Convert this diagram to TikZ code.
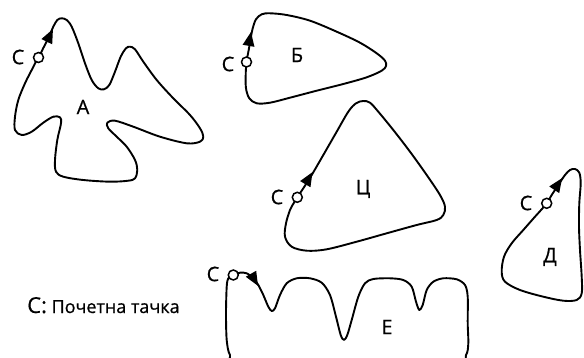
\documentclass[tikz,border=0pt]{standalone}
\usepackage{fontspec}
\setmainfont{Open Sans}[FakeBold=0.6]
\begin{document}
\begin{tikzpicture}[x=1pt,y=-1pt,
  outline/.style={line width=1.9pt, line join=round, line cap=round},
  startpt/.style={circle, draw, fill=white, line width=1.5pt, minimum size=10pt, inner sep=0pt},
  lbl/.style={font=\fontsize{20}{20}\selectfont, inner sep=0pt},
  fwdtip/.pic={\fill (1,0) -- (-13,6) -- (-13,-6) -- cycle;},
]
\useasboundingbox (0,0) rectangle (584,358);
\clip (0,0) rectangle (584,358);

% ---- region A ----
\draw[outline] plot[smooth cycle, tension=0.55] coordinates {
  (38.3,58.3) (43.3,48) (48.3,38.3) (53.3,26.7) (57.3,20) (61.7,18.3) (66.7,20)
  (71.7,26.7) (78.3,43.3) (85,63.3) (91.7,80) (98.3,88.3) (104,89.3) (109.3,85)
  (115,71.7) (120.7,56.7) (126,48.3) (130,46.7) (135,49.3) (143.3,61.7)
  (156.7,80) (173.3,98.3) (190,115) (200,128.3) (203.3,136.7) (200,141.7)
  (186.7,143.3) (160,136.7) (133.3,126.7) (115,120.7) (107.3,122.7) (108.3,128.3)
  (116.7,136.7) (126.7,146.7) (135,160) (137.3,170) (135,178.3) (128.3,180.7)
  (110,181.7) (83.3,180) (63.3,176.7) (56,171.7) (55,160) (57.3,140) (61,123.3)
  (60,117.3) (53.3,116.7) (43.3,122.7) (31.7,131.7) (21.7,135) (15,130)
  (15,116.7) (18.3,100) (25,83.3) (31.7,70) (36,61.7)};
\pic[rotate=64] at (52.5,30) {fwdtip};
\node[startpt] (sA) at (38.5,57.5) {};
\node[lbl] (cA) at (18,57) {С};
\node[lbl] (nA) at (83,107) {А};

% ---- region B ----
\draw[outline] plot[smooth cycle, tension=0.55] coordinates {
  (246.5,62) (248.7,50) (250.7,38.3) (252.7,28.3) (256,19.3) (261.7,14.3)
  (270,13.3) (286.7,15) (310,20.7) (336.7,31.7) (360,42.7) (376.7,53.3)
  (385,60.7) (386,66) (381.7,70.7) (366.7,77.3) (343.3,84) (316.7,90.7)
  (290,97.7) (270,102.7) (256.7,103.3) (249.3,98.3) (246,88.3) (245.7,75)};
\pic[rotate=80] at (250.8,33) {fwdtip};
\node[startpt] (sB) at (246.5,62) {};
\node[lbl] (cB) at (228,64) {С};
\node[lbl] (nB) at (297,55) {Б};

% ---- region C ----
\draw[outline] plot[smooth cycle, tension=0.55] coordinates {
  (297.3,197.3) (303.3,188.3) (311.7,175) (323.3,155) (336.7,131.7) (348.3,111.7)
  (356,103.3) (363.3,101) (370,102.7) (378.3,111.7) (393.3,130) (410,151.7)
  (426.7,175) (440,195) (445,206.7) (443.3,215) (436.7,220) (416.7,225)
  (386.7,233.3) (356.7,241.7) (326.7,249.3) (306.7,250.7) (291.7,246.7)
  (285,236.7) (286,223.3) (290,210) (294,202.7)};
\pic[rotate=59] at (312,173) {fwdtip};
\node[startpt] (sC) at (297.3,197.3) {};
\node[lbl] (cC) at (277,197) {С};
\node[lbl] (nC) at (363,189) {Ц};

% ---- region D ----
\draw[outline] plot[smooth cycle, tension=0.55] coordinates {
  (546.7,203.3) (551.7,195) (558.3,185) (565,175) (570,170) (575,169)
  (579.3,172.7) (580.7,183.3) (579.3,203.3) (579,226.7) (580,250) (581.7,276.7)
  (581.7,293.3) (576.7,300) (563.3,300.7) (543.3,296.7) (520,290) (505,281.7)
  (501.7,271.7) (504,256.7) (511.7,243.3) (523.3,230) (535,216.7) (541.7,209.3)};
\pic[rotate=56] at (561.5,179) {fwdtip};
\node[startpt] (sD) at (546.7,203.3) {};
\node[lbl] (cD) at (526,203) {С};
\node[lbl] (nD) at (550,257) {Д};

% ---- region E ----
\draw[outline] plot[smooth cycle, tension=0.5] coordinates {
  (233.3,275) (240,272.7) (246.7,273.3) (253.3,278.3) (258.3,285) (263.3,295)
  (268.3,306.7) (271.7,311) (275,308.3) (280,295) (286.7,283.3) (296.7,278.3)
  (310,278.3) (321.7,282.7) (330,295) (336,316.7) (340.7,335) (344,340)
  (347.3,335) (351.7,320) (358.3,296.7) (365,283.3) (373.3,279) (390,278.3)
  (403.3,280) (411.7,286.7) (416,301.7) (419.3,310) (422.7,305) (426.7,290)
  (433.3,281.7) (443.3,278.3) (456.7,279.3) (465,285) (467.7,296.7)
  (467.7,323.3) (468.3,343.3) (466,355) (455,361) (350,361) (240,361)
  (230,355) (226.7,340) (226,313.3) (226.7,286.7) (228.3,278.3)};
\pic[rotate=-60] at (257.5,285) {fwdtip};
\node[startpt] (sE) at (233.3,275) {};
\node[lbl] (cE) at (213,274) {С};
\node[lbl] (nE) at (387,327) {Е};

% ---- legend ----
\node[anchor=base west, inner sep=0pt, font=\fontsize{18}{18}\selectfont] (legend) at (27,313)
  {{\fontsize{22}{22}\selectfont С:} Почетна тачка};
\end{tikzpicture}
\end{document}
